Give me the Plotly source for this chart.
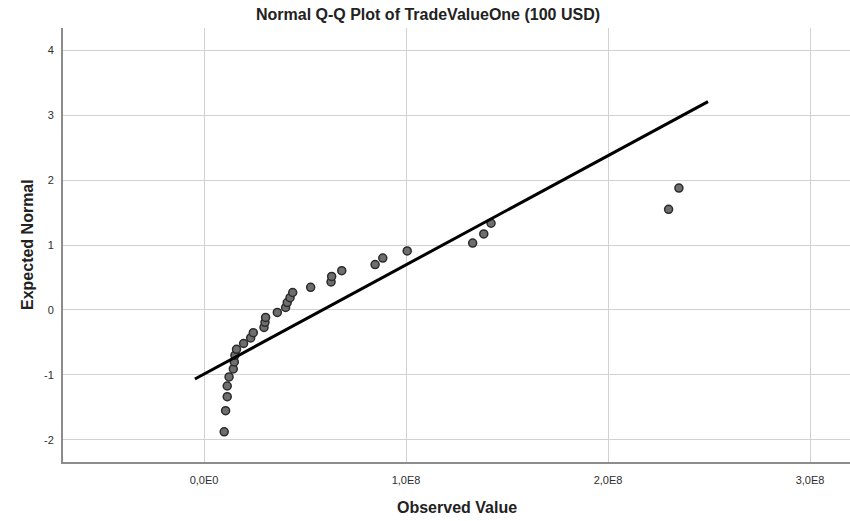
import numpy as np
import plotly.graph_objects as go

# Observed values (100 USD), sorted ascending
observed = [0.100e8, 0.107e8, 0.115e8, 0.115e8, 0.124e8, 0.145e8, 0.150e8, 0.153e8,
            0.161e8, 0.196e8, 0.231e8, 0.244e8, 0.297e8, 0.302e8, 0.305e8, 0.363e8,
            0.404e8, 0.412e8, 0.426e8, 0.439e8, 0.528e8, 0.629e8, 0.632e8, 0.682e8,
            0.847e8, 0.885e8, 1.006e8, 1.330e8, 1.385e8, 1.421e8, 2.300e8, 2.351e8]

# Expected normal scores for each observed value
expected = [-1.876, -1.55, -1.335, -1.17, -1.03, -0.908, -0.799, -0.698,
            -0.605, -0.516, -0.431, -0.349, -0.269, -0.19, -0.114, -0.038,
            0.038, 0.114, 0.19, 0.269, 0.349, 0.431, 0.516, 0.605,
            0.698, 0.799, 0.908, 1.03, 1.17, 1.335, 1.55, 1.876]

# Extent of the reference line along the observed axis
line_x = [-0.045e8, 2.495e8]

x_tickvals = [0, 1e8, 2e8, 3e8]
x_ticktext = ["0,0E0", "1,0E8", "2,0E8", "3,0E8"]
y_tickvals = [-2, -1, 0, 1, 2, 3, 4]
y_ticktext = ["-2", "-1", "0", "1", "2", "3", "4"]

obs = np.array(observed)
mu = obs.mean()
sd = obs.std(ddof=1)
line_y = [(v - mu) / sd for v in line_x]

FONT = "Liberation Sans, Arial, sans-serif"
TICK_COLOR = "#2e2e2e"

fig = go.Figure()
fig.add_trace(go.Scatter(
    x=observed, y=expected, mode="markers",
    marker=dict(size=8, color="#6e6e6e", line=dict(color="#2b2b2b", width=1.5)),
    showlegend=False, hoverinfo="x+y",
))
fig.add_trace(go.Scatter(
    x=line_x, y=line_y, mode="lines",
    line=dict(color="black", width=3),
    showlegend=False, hoverinfo="skip",
))

fig.update_layout(
    width=850, height=521,
    margin=dict(l=63, r=0, t=28, b=59),
    paper_bgcolor="white", plot_bgcolor="white",
    font=dict(family=FONT, color=TICK_COLOR),
    title=dict(text="<b>Normal Q-Q Plot of TradeValueOne (100 USD)</b>",
               x=428 / 850, xanchor="center", xref="container",
               y=1 - 14 / 521, yanchor="middle", yref="container",
               font=dict(size=16, color="#222222", family=FONT)),
    xaxis=dict(
        range=[-0.698e8, 3.198e8], tickvals=x_tickvals, ticktext=x_ticktext,
        showgrid=True, gridcolor="#d2d2d2", gridwidth=1,
        zeroline=False, showline=True, linecolor="#8c8c8c", linewidth=2,
        ticks="", ticklabelstandoff=7,
        tickfont=dict(size=11, color=TICK_COLOR, family=FONT),
    ),
    yaxis=dict(
        range=[-2.34, 4.34], tickvals=y_tickvals, ticktext=y_ticktext,
        showgrid=True, gridcolor="#d2d2d2", gridwidth=1,
        zeroline=False, showline=True, linecolor="#8c8c8c", linewidth=2,
        ticks="", ticklabelstandoff=5,
        tickfont=dict(size=11, color=TICK_COLOR, family=FONT),
    ),
    annotations=[
        dict(text="<b>Observed Value</b>", xref="paper", yref="paper",
             x=0.5, y=0, yanchor="middle", yshift=-45, showarrow=False,
             font=dict(size=16, color="#222222", family=FONT)),
        dict(text="<b>Expected Normal</b>", xref="paper", yref="paper",
             x=0, y=0.5, xanchor="center", xshift=-36, textangle=-90,
             showarrow=False,
             font=dict(size=16, color="#222222", family=FONT)),
    ],
)

fig.write_html("out.html")
